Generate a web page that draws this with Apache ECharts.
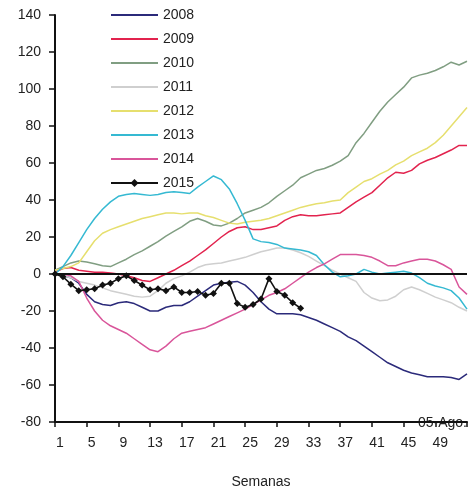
<!DOCTYPE html>
<html>
<head>
<meta charset="utf-8">
<script src="https://cdn.jsdelivr.net/npm/echarts@6/dist/echarts.min.js"></script>
<style>html,body{margin:0;padding:0;background:#fff;overflow:hidden;}#c{width:471px;height:494px;}</style>
</head>
<body>
<div id="c"></div>
<script>
var weeks = [];
for (var i = 1; i <= 53; i++) weeks.push(String(i));

var yTicks = { min: -80, max: 140, interval: 20 };
var seriesNames = ['2008', '2009', '2010', '2011', '2012', '2013', '2014', '2015'];

var s2008 = [0,-1,-2,-5,-11,-15,-16.5,-17,-15.5,-15,-16,-18,-20,-20,-18,-17,-17,-15,-12,-9,-6,-5,-4.5,-4,-6,-10,-15,-19,-21.5,-21.5,-21.5,-22,-23.5,-25,-27,-29,-31,-34,-36,-39,-42,-45,-48,-50,-52,-53.5,-54.5,-55.5,-55.5,-55.5,-56,-57,-54];
var s2009 = [1,3,3.5,2,1.5,1,1,0.5,0,-1,-2,-3.5,-4,-2,0,2,4.5,7,10,13,16.5,20,23,25,25.5,24,24,25,26,29,31,32,31.5,31.5,32,32.5,33,36,39,41.5,44,48,52,55,54.5,56,59.5,61.5,63,65,67,69.5,69.5];
var s2010 = [2,4,6,7,6.5,5.5,4.5,4,6,8,10.5,12.5,15,17.5,20.5,23,25.5,28.5,30,28.5,26.5,26,27.5,30,33,34.5,36,38.5,42,45,48,52,54,56,57,58.8,61,64,71,76,82,88,93,97,101,106,107.5,108.5,110,112,114.5,113,115];
var s2011 = [0,-1,-2,-4,-5,-6,-7.5,-9,-10,-11,-12,-12.5,-12,-9,-5,-2.5,-1,1,3.5,5,5.5,6,7,8,9,10.5,12,13,14,14,13,11.5,9.5,7,4.5,2,0,-2,-4,-10,-13,-14.5,-14,-12,-8.5,-7,-8.5,-10.5,-12.5,-14,-15.5,-18,-20];
var s2012 = [2,3,4,6,12,18,22,24,25.5,27,28.5,30,31,32,33,33,32.5,33,33,31.5,30.5,29,27.5,27,28,28.5,29,30,31.5,33,34.5,36,37,38,38.5,39.5,40,44,47,50,51.5,54,56,59,61,64,66,68,71,75,80,85,90];
var s2013 = [0,4,10,17,24,30,35,39,42,43,43.5,43,42.5,43,44,44.5,44,43.5,47,50,53,51,46,38,29,19,17.5,17,16,14,13.5,13,12,10,5,1,-1.5,-1,0,2.5,1,0,0.5,1,1.5,0.5,-2,-5,-6.5,-7.5,-9,-13,-19];
var s2014 = [0,0,-1,-4,-13,-20,-25,-28,-30,-32,-35,-38,-41,-42,-39,-35,-32,-31,-30,-29,-27,-25,-23,-21,-19,-16.5,-14,-11.5,-10,-8,-5,-2,1,3.5,5.5,8,10.5,10.5,10.5,10,9,7,4.5,4.5,6,7,8,8,7,5,2.5,-7,-11];
var s2015 = [0,-1.5,-5.5,-9,-8.5,-8,-6,-5,-2.5,-1,-3.5,-6,-8.5,-8,-9,-7,-10,-10,-9.5,-11.5,-10.5,-5,-5,-16,-18,-16.5,-13.5,-2.5,-9.5,-11.5,-15.5,-18.5];

var colors = ['#2b2a7a', '#e2234e', '#809e82', '#cfcfcf', '#e6df6e', '#35b9d2', '#d9559a', '#111111'];
var allData = [s2008, s2009, s2010, s2011, s2012, s2013, s2014, s2015];

var FONT = 'Liberation Sans, Arial, sans-serif';

var series = seriesNames.map(function (n, i) {
  var isLast = i === 7;
  var s = {
    name: n,
    type: 'line',
    data: allData[i],
    symbol: isLast ? 'diamond' : 'none',
    symbolSize: isLast ? 7 : 0,
    showSymbol: isLast,
    showAllSymbol: true,
    smooth: false,
    animation: false,
    z: isLast ? 5 : 3,
    lineStyle: { color: colors[i], width: isLast ? 1.6 : 1.5 },
    itemStyle: { color: colors[i] }
  };
  if (i === 0) {
    s.markLine = {
      silent: true,
      symbol: 'none',
      label: { show: false },
      lineStyle: { color: '#111', width: 2, type: 'solid' },
      data: [{ yAxis: 0 }],
      animation: false
    };
  }
  return s;
});

var legendData = seriesNames.map(function (n, i) {
  return i === 7 ? { name: n } : { name: n, itemStyle: { opacity: 0 } };
});

var chart = echarts.init(document.getElementById('c'));
chart.setOption({
  backgroundColor: '#fff',
  animation: false,
  grid: { left: 55, width: 412, top: 15, height: 419, containLabel: false },
  legend: {
    data: legendData,
    orient: 'vertical',
    left: 105,
    top: 3,
    padding: 5,
    itemWidth: 47,
    itemHeight: 10,
    itemGap: 10,
    textStyle: { fontFamily: FONT, fontSize: 14, color: '#222', lineHeight: 14 }
  },
  xAxis: {
    type: 'category',
    data: weeks,
    boundaryGap: false,
    name: 'Semanas',
    nameLocation: 'middle',
    nameGap: 53,
    nameTextStyle: { fontFamily: FONT, fontSize: 14, color: '#222' },
    axisLine: { onZero: false, lineStyle: { color: '#111', width: 2 } },
    axisTick: { interval: 3, length: 5, lineStyle: { color: '#111', width: 1.5 } },
    axisLabel: {
      interval: 3, margin: 14, fontFamily: FONT, fontSize: 14, color: '#222',
      padding: [0, 0, 0, 10],
      formatter: function (v) { return v === '53' ? '' : v; }
    },
    splitLine: { show: false }
  },
  yAxis: {
    type: 'value',
    min: yTicks.min,
    max: yTicks.max,
    interval: yTicks.interval,
    axisLine: { show: true, lineStyle: { color: '#111', width: 2 } },
    axisTick: { show: true, length: 6, lineStyle: { color: '#111', width: 1.5 } },
    axisLabel: { margin: 14, fontFamily: FONT, fontSize: 14, color: '#222' },
    splitLine: { show: false }
  },
  graphic: [{
    type: 'text',
    x: 467, y: 423,
    style: { text: '05-Ago.', fontFamily: FONT, fontSize: 14, fill: '#222', textAlign: 'right', textVerticalAlign: 'middle' }
  }],
  series: series
});
</script>
</body>
</html>
